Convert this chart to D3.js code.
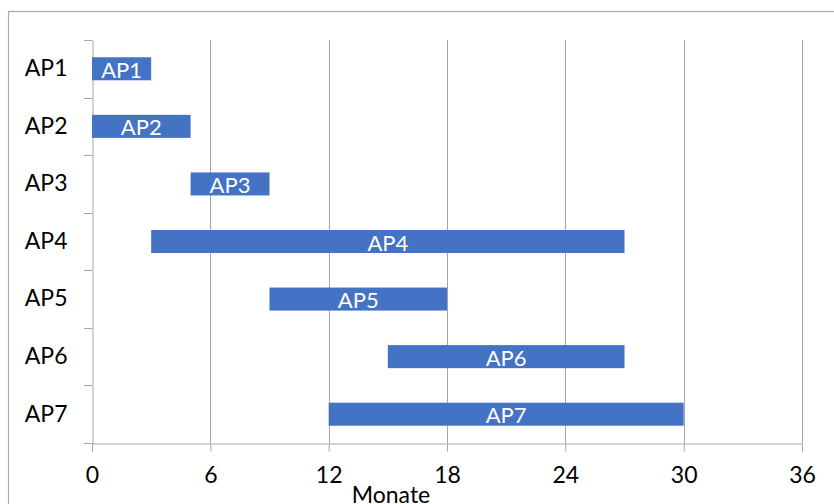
<!DOCTYPE html>
<html><head><meta charset="utf-8">
<script src="https://cdn.jsdelivr.net/npm/d3@7"></script>
<style>html,body{margin:0;padding:0;background:#fff;overflow:hidden}</style>
</head><body>
<svg id="c" width="834" height="504"></svg>
<script>
const categories = ["AP1","AP2","AP3","AP4","AP5","AP6","AP7"];
const starts = [0,0,5,3,9,15,12];
const durations = [3,5,4,24,9,12,18];
const xTicks = [0,6,12,18,24,30,36];
const axisTitle = "Monate";

const svg = d3.select("#c");
const font = "Lato, 'Liberation Sans', sans-serif";
const m = {left:92, right:32, top:40, bottom:61};
const W = 834, H = 504;
svg.append("rect").attr("x",8.5).attr("y",11.5).attr("width",W).attr("height",H)
  .attr("fill","#fff").attr("stroke","#ababab").attr("stroke-width",1.2);

const x = d3.scaleLinear().domain([0,36]).range([m.left, W-m.right]);
const y = d3.scaleBand().domain(categories).range([m.top, H-m.bottom]).paddingInner(0.6).paddingOuter(0.3);
const yb = d3.scaleBand().domain(categories).range([m.top, H-m.bottom]);

// gridlines
svg.append("g").selectAll("line").data(xTicks.filter(d=>d>0)).join("line")
  .attr("x1",d=>Math.round(x(d))+0.5).attr("x2",d=>Math.round(x(d))+0.5)
  .attr("y1",m.top).attr("y2",H-m.bottom).attr("stroke","#a6a6a6").attr("stroke-width",1);

// x axis
const gx = svg.append("g").attr("transform",`translate(0,${H-m.bottom+0.5})`)
  .call(d3.axisBottom(x).tickValues(xTicks).tickSize(8).tickPadding(15));
gx.select(".domain").attr("stroke","#a6a6a6");
gx.selectAll(".tick line").attr("stroke","#a6a6a6");
gx.selectAll("text").attr("font-family",font).attr("font-size",23).attr("fill","#000");

// y axis
const gy = svg.append("g").attr("transform",`translate(${m.left+0.5},0)`)
  .call(d3.axisLeft(yb).tickSize(0).tickPadding(25));
gy.select(".domain").attr("stroke","#a6a6a6");
gy.selectAll("text").attr("font-family",font).attr("font-size",23).attr("fill","#000");
// category boundary ticks
const bounds = categories.map(c=>yb(c)).concat([H-m.bottom]);
svg.append("g").selectAll("line").data(bounds).join("line")
  .attr("x1",m.left-8).attr("x2",m.left+0.5)
  .attr("y1",d=>Math.round(d)+0.5).attr("y2",d=>Math.round(d)+0.5)
  .attr("stroke","#a6a6a6");

// bars
const data = categories.map((c,i)=>({c, s:starts[i], d:durations[i]}));
svg.append("g").selectAll("rect").data(data).join("rect")
  .attr("x",d=>x(d.s)).attr("width",d=>x(d.s+d.d)-x(d.s))
  .attr("y",d=>y(d.c)).attr("height",y.bandwidth()).attr("fill","#4472C4");
svg.append("g").selectAll("text").data(data).join("text")
  .attr("x",d=>(x(d.s)+x(d.s+d.d))/2).attr("y",d=>y(d.c)+y.bandwidth()/2+9)
  .attr("text-anchor","middle").attr("font-family",font).attr("font-size",22)
  .attr("fill","#fff").text(d=>d.c);

svg.append("text").attr("x",391).attr("y",503).attr("text-anchor","middle")
  .attr("font-family",font).attr("font-size",23).attr("fill","#000").text(axisTitle);
</script>
</body></html>
